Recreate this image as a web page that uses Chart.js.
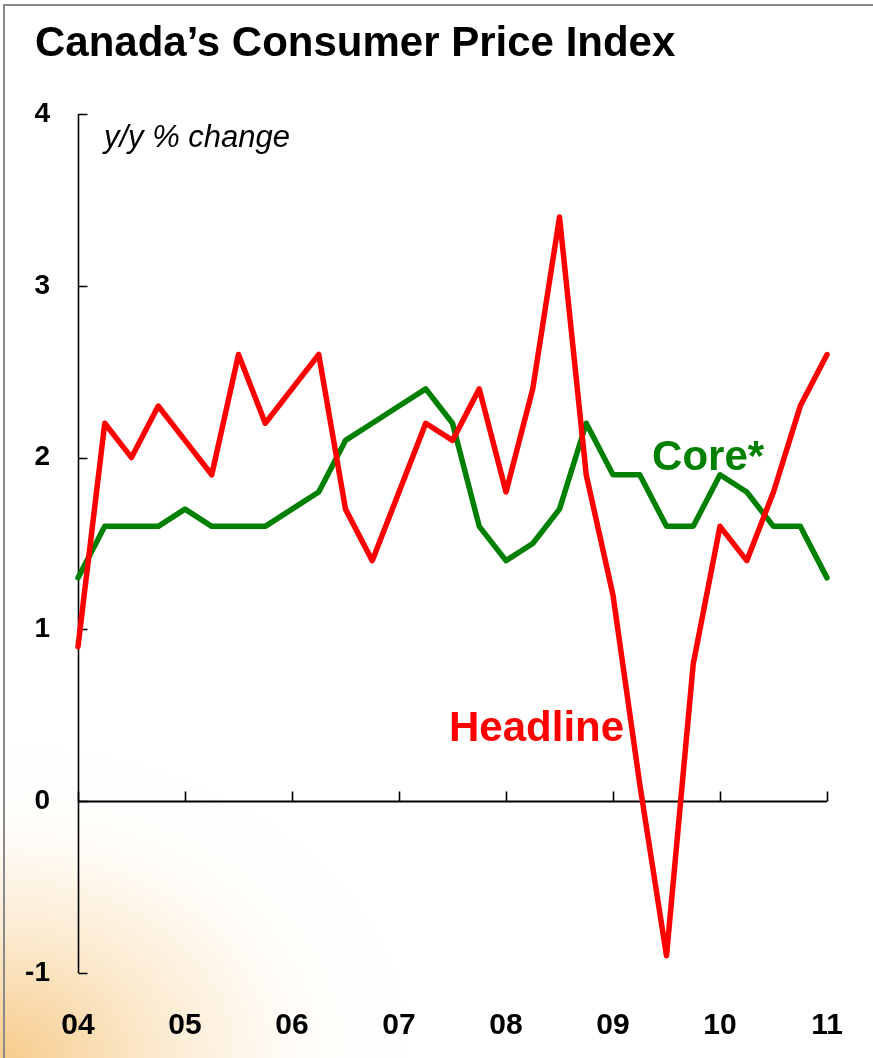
<!DOCTYPE html>
<html>
<head>
<meta charset="utf-8">
<title>Canada's Consumer Price Index</title>
<script src="https://cdn.jsdelivr.net/npm/chart.js@4.4.1/dist/chart.umd.min.js"></script>
<style>
  html, body { margin: 0; padding: 0; background: #fff; }
  .wrap {
    position: relative;
    width: 873px;
    height: 1058px;
    overflow: hidden;
    background:
      radial-gradient(ellipse 420px 320px at 0% 100%,
        rgba(244, 190, 110, 0.8) 0%,
        rgba(249, 216, 165, 0.5) 40%,
        rgba(255, 242, 225, 0.22) 70%,
        rgba(255, 255, 255, 0) 100%),
      #fff;
  }
  .frame {
    position: absolute;
    left: 3px; top: 4px; right: -10px; bottom: -10px;
    border-left: 2px solid #8a8a8a;
    border-top: 2px solid #8a8a8a;
    pointer-events: none;
  }
  canvas { position: absolute; left: 0; top: 0; }
</style>
</head>
<body>
<div class="wrap">
  <canvas id="cpi-chart"></canvas>
  <div class="frame"></div>
</div>
<script>
// quarterly, 2004Q1 .. 2011Q1
const quarters = [
  '04Q1', '04Q2', '04Q3', '04Q4',
  '05Q1', '05Q2', '05Q3', '05Q4',
  '06Q1', '06Q2', '06Q3', '06Q4',
  '07Q1', '07Q2', '07Q3', '07Q4',
  '08Q1', '08Q2', '08Q3', '08Q4',
  '09Q1', '09Q2', '09Q3', '09Q4',
  '10Q1', '10Q2', '10Q3', '10Q4',
  '11Q1'
];
const headline = [
  0.9, 2.2, 2.0, 2.3,
  2.1, 1.9, 2.6, 2.2,
  2.4, 2.6, 1.7, 1.4,
  1.8, 2.2, 2.1, 2.4,
  1.8, 2.4, 3.4, 1.9,
  1.2, 0.1, -0.9, 0.8,
  1.6, 1.4, 1.8, 2.3,
  2.6
];
const core = [
  1.3, 1.6, 1.6, 1.6,
  1.7, 1.6, 1.6, 1.6,
  1.7, 1.8, 2.1, 2.2,
  2.3, 2.4, 2.2, 1.6,
  1.4, 1.5, 1.7, 2.2,
  1.9, 1.9, 1.6, 1.6,
  1.9, 1.8, 1.6, 1.6,
  1.3
];
const yTicks = [-1, 0, 1, 2, 3, 4];

const FONT = '"Liberation Sans", Arial, Helvetica, sans-serif';
const TITLE = 'Canada\u2019s Consumer Price Index';

// axis lines with inward ticks, zero line, title and the in-chart labels
const axesPlugin = {
  id: 'cpiAxes',
  beforeDatasetsDraw(chart) {
    const { ctx, chartArea, scales: { x, y } } = chart;
    const left = Math.round(chartArea.left) + 0.5;
    const zero = Math.round(y.getPixelForValue(0)) + 0.5;
    ctx.save();
    ctx.strokeStyle = '#000';
    ctx.lineWidth = 1.6;
    ctx.beginPath();
    ctx.moveTo(left, y.getPixelForValue(4));
    ctx.lineTo(left, y.getPixelForValue(-1));
    yTicks.forEach(v => {
      const py = Math.round(y.getPixelForValue(v)) + 0.5;
      ctx.moveTo(left, py);
      ctx.lineTo(left + 9, py);
    });
    ctx.stroke();

    ctx.lineWidth = 2.2;
    ctx.beginPath();
    ctx.moveTo(left, zero);
    ctx.lineTo(x.getPixelForValue(quarters.length - 1), zero);
    ctx.stroke();

    ctx.lineWidth = 1.6;
    ctx.beginPath();
    quarters.forEach((q, i) => {
      if (q.endsWith('Q1')) {
        const px = Math.round(x.getPixelForValue(i)) + 0.5;
        ctx.moveTo(px, zero);
        ctx.lineTo(px, zero - 10);
      }
    });
    ctx.stroke();
    ctx.restore();
  },
  afterDatasetsDraw(chart) {
    const { ctx, scales: { x, y } } = chart;
    ctx.save();
    ctx.textAlign = 'left';
    ctx.textBaseline = 'alphabetic';

    ctx.font = 'bold 42px ' + FONT;
    ctx.fillStyle = '#000';
    ctx.fillText(TITLE, 35, 56);

    ctx.font = 'italic 31px ' + FONT;
    ctx.fillText('y/y % change', x.getPixelForValue(0.97), y.getPixelForValue(3.81));

    ctx.font = 'bold 42px ' + FONT;
    ctx.fillStyle = '#ff0000';
    ctx.fillText('Headline', x.getPixelForValue(13.87), y.getPixelForValue(0.35));

    ctx.fillStyle = '#008000';
    ctx.fillText('Core*', x.getPixelForValue(21.46), y.getPixelForValue(1.93));
    ctx.restore();
  }
};

new Chart(document.getElementById('cpi-chart'), {
  type: 'line',
  data: {
    labels: quarters,
    datasets: [
      {
        label: 'Headline',
        data: headline,
        borderColor: '#ff0000',
        borderWidth: 5.5,
        pointRadius: 0,
        tension: 0,
        borderCapStyle: 'round',
        borderJoinStyle: 'round',
        clip: false
      },
      {
        label: 'Core*',
        data: core,
        borderColor: '#008000',
        borderWidth: 5.5,
        pointRadius: 0,
        tension: 0,
        borderCapStyle: 'round',
        borderJoinStyle: 'round',
        clip: false
      }
    ]
  },
  options: {
    responsive: true,
    maintainAspectRatio: false,
    animation: false,
    layout: { padding: { left: 12, right: 46, top: 114, bottom: 0 } },
    plugins: {
      legend: { display: false },
      tooltip: { enabled: false },
      title: { display: false }
    },
    scales: {
      x: {
        type: 'category',
        offset: false,
        grid: { display: false },
        border: { display: false },
        afterFit(scale) { scale.height = 85; },
        ticks: {
          autoSkip: false,
          maxRotation: 0,
          padding: 27,
          color: '#000',
          font: { family: FONT, size: 30, weight: 'bold' },
          callback(value, index) {
            const q = quarters[index];
            return q.endsWith('Q1') ? q.slice(0, 2) : '';
          }
        }
      },
      y: {
        min: -1,
        max: 4,
        grid: { display: false },
        border: { display: false },
        afterFit(scale) { scale.width = 66; },
        ticks: {
          stepSize: 1,
          padding: 20,
          color: '#000',
          font: { family: FONT, size: 28, weight: 'bold' }
        }
      }
    }
  },
  plugins: [axesPlugin]
});
</script>
</body>
</html>
